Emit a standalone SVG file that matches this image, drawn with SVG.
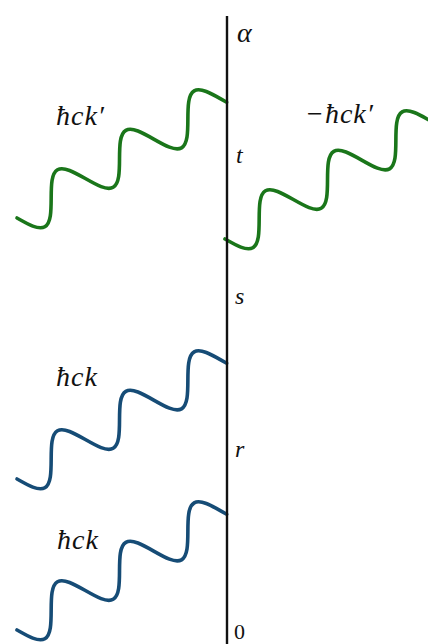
<svg xmlns="http://www.w3.org/2000/svg" xmlns:xlink="http://www.w3.org/1999/xlink" width="428" height="644" viewBox="0 0 428 644">
<style>
.wave{fill:none;stroke-width:3.6;stroke-linecap:round;stroke-linejoin:round}
.green{stroke:#1a761a}
.blue{stroke:#164c76}
.lbl{font-family:"Liberation Serif","Times New Roman",serif;font-style:italic;font-size:28px;fill:#111}
.ax{font-family:"Liberation Serif","Times New Roman",serif;font-style:italic;font-size:24px;fill:#111}
.big{font-size:28px}
.num{font-family:"Liberation Serif","Times New Roman",serif;font-size:22px;fill:#111}
</style>
<defs>
<path id="wave" d="M0,0 c6.43,11.03 12.59,21.5 19.73,21.5 s13.29,-10.47 19.73,-21.5 s12.59,-21.5 19.73,-21.5 s13.29,10.47 19.73,21.5 s12.59,21.5 19.73,21.5 s13.29,-10.47 19.73,-21.5 s12.59,-21.5 19.73,-21.5 s13.29,10.47 19.73,21.5 s12.59,21.5 19.73,21.5 s13.29,-10.47 19.73,-21.5 s12.59,-21.5 19.73,-21.5 s13.29,10.47 19.73,21.5 l2.7,4.6"/>
</defs>
<rect width="428" height="644" fill="#fff"/>
<g id="connectors">
<use xlink:href="#wave" class="wave green" transform="translate(17,218) rotate(-30)"/>
<use xlink:href="#wave" class="wave green" transform="translate(225,239) rotate(-30)"/>
<use xlink:href="#wave" class="wave blue" transform="translate(17,479) rotate(-30)"/>
<use xlink:href="#wave" class="wave blue" transform="translate(17,630) rotate(-30)"/>
</g>
<g id="axis">
<line x1="227" y1="16" x2="227" y2="644" stroke="#111" stroke-width="2.4"/>
</g>
<g id="label-alpha"><text class="ax big" x="237" y="42">α</text></g>
<g id="label-t"><text class="ax" x="236" y="163">t</text></g>
<g id="label-s"><text class="ax" x="235" y="304">s</text></g>
<g id="label-r"><text class="ax" x="235" y="457">r</text></g>
<g id="label-0"><text class="num" x="234" y="639">0</text></g>
<g id="label-hck1"><text class="lbl" x="56" y="125" letter-spacing="1">ħck′</text></g>
<g id="label-hck2"><text class="lbl" x="305" y="123" letter-spacing="1">−ħck′</text></g>
<g id="label-hck3"><text class="lbl" x="56" y="386" letter-spacing="1">ħck</text></g>
<g id="label-hck4"><text class="lbl" x="57" y="549" letter-spacing="1">ħck</text></g>
</svg>
